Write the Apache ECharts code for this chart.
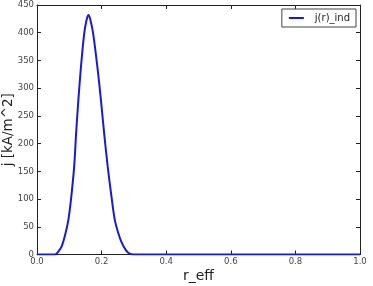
<!DOCTYPE html>
<html><head><meta charset="utf-8">
<script src="https://cdn.jsdelivr.net/npm/echarts@6/dist/echarts.min.js"></script>
<style>html,body{margin:0;padding:0;background:#fff}#c{width:373px;height:286px}</style>
</head><body><div id="c"></div>
<script>
var rEff = [0.0, 0.02, 0.04, 0.056, 0.066, 0.076, 0.087, 0.097, 0.105, 0.115, 0.121, 0.128, 0.136, 0.146, 0.153, 0.159, 0.165, 0.174, 0.187, 0.198, 0.208, 0.219, 0.232, 0.241, 0.252, 0.262, 0.275, 0.288, 0.3, 0.4, 0.5, 0.6, 0.7, 0.8, 0.9, 1.0];
var jInd = [0, 0, 0, 0, 5, 14, 35, 62, 98, 158, 218, 278, 338, 398, 422, 432, 424, 398, 338, 278, 218, 158, 98, 62, 38, 22, 8, 1, 0, 0, 0, 0, 0, 0, 0, 0];
var xTicks = [0, 0.2, 0.4, 0.6, 0.8, 1.0];
var yTicks = [0, 50, 100, 150, 200, 250, 300, 350, 400, 450];
var seriesName = 'j(r)_ind';

var data = rEff.map(function (x, i) { return [x, jInd[i]]; });
var lbl = {fontFamily: 'DejaVu Sans', fontSize: 8.5, color: '#444'};
var chart = echarts.init(document.getElementById('c'));
chart.setOption({
  animation: false,
  grid: {left: 37, right: 13, top: 5, bottom: 31.5, show: false, containLabel: false, outerBoundsMode: 'none'},
  legend: {
    right: 17, top: 9, orient: 'vertical',
    borderColor: '#444', borderWidth: 1, borderRadius: 0,
    padding: [4, 6, 4, 7], itemWidth: 15, itemHeight: 2, itemGap: 4,
    textStyle: {fontFamily: 'DejaVu Sans', fontSize: 10, color: '#222', padding: [0, 0, 0, 6]},
    icon: 'rect',
    data: [seriesName]
  },
  xAxis: [{
    type: 'value', min: 0, max: 1, interval: 0.2,
    axisLine: {show: true, lineStyle: {color: '#222', width: 1}},
    axisTick: {show: true, inside: true, length: 4, lineStyle: {color: '#222'}},
    axisLabel: Object.assign({margin: 3, formatter: function (v) { return v.toFixed(1); }}, lbl),
    splitLine: {show: false},
    name: 'r_eff', nameLocation: 'middle', nameGap: 15, nameMoveOverlap: false,
    nameTextStyle: {fontFamily: 'DejaVu Sans', fontSize: 14, color: '#222'}
  }, {
    type: 'value', min: 0, max: 1, interval: 0.2, position: 'top',
    axisLine: {show: true, onZero: false, lineStyle: {color: '#222', width: 1}},
    axisTick: {show: true, inside: true, length: 4, lineStyle: {color: '#222'}},
    axisLabel: {show: false}, splitLine: {show: false}
  }],
  yAxis: [{
    type: 'value', min: 0, max: 450, interval: 50,
    axisLine: {show: true, lineStyle: {color: '#222', width: 1}},
    axisTick: {show: true, inside: true, length: 4, lineStyle: {color: '#222'}},
    axisLabel: Object.assign({margin: 3}, lbl),
    splitLine: {show: false},
    name: 'j [kA/m^2]', nameLocation: 'middle', nameGap: 22, nameRotate: 90, nameMoveOverlap: false,
    nameTextStyle: {fontFamily: 'DejaVu Sans', fontSize: 13.5, color: '#222'}
  }, {
    type: 'value', min: 0, max: 450, interval: 50, position: 'right',
    axisLine: {show: true, onZero: false, lineStyle: {color: '#222', width: 1}},
    axisTick: {show: true, inside: true, length: 4, lineStyle: {color: '#222'}},
    axisLabel: {show: false}, splitLine: {show: false}
  }],
  series: [{
    name: seriesName, type: 'line', data: data, smooth: 0.3,
    showSymbol: false, symbol: 'none',
    lineStyle: {color: '#1a1ad6', width: 2},
    itemStyle: {color: '#1a1ad6'}
  }]
});
</script></body></html>
